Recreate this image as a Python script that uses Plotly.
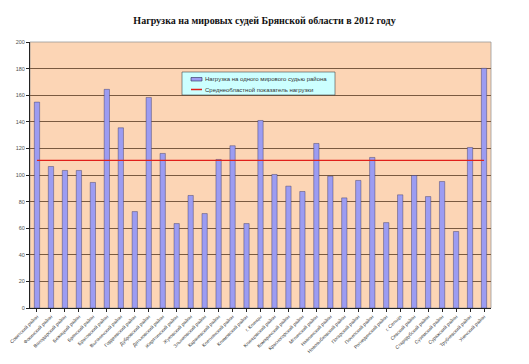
import plotly.graph_objects as go

districts = [
    "Советский район", "Фокинский район", "Володарский район", "Бежицкий район",
    "Брянский район", "Брасовский район", "Выгоничский район", "Гордеевский район",
    "Дубровский район", "Дятьковский район", "Жирятинский район", "Жуковский район",
    "Злынковский район", "Карачевский район", "Клетнянский район", "Климовский район",
    "г. Клинцы", "Клинцовский район", "Комаричский район", "Красногорский район",
    "Мглинский район", "Навлинский район", "Новозыбковский район", "Погарский район",
    "Почепский район", "Рогнединский район", "г. Сельцо", "Севский район",
    "Стародубский район", "Суземский район", "Суражский район", "Трубчевский район",
    "Унечский район",
]
load_per_judge = [
    154.8, 106.4, 103.4, 103.4, 94.4, 164.4, 135.5, 72.5, 158.3, 116.2, 63.5,
    84.6, 71.0, 111.7, 122.0, 63.5, 141.0, 100.4, 91.6, 87.6, 123.7, 99.1,
    82.8, 95.9, 113.2, 64.2, 85.1, 99.6, 83.8, 95.1, 57.5, 120.7, 180.2,
]
regional_average = [111] * len(districts)
y_ticks = list(range(0, 201, 20))
bar_name = "Нагрузка на одного мирового судью района"
line_name = "Среднеобластной показатель нагрузки"

BAR_COLOR = "#9C9CF2"
LINE_COLOR = "#E0201A"

fig = go.Figure()
fig.add_trace(go.Bar(
    x=districts, y=load_per_judge, name=bar_name,
    marker=dict(color=BAR_COLOR, line=dict(color="#2a2a55", width=0.4)),
))
fig.add_trace(go.Scatter(
    x=districts, y=regional_average, mode="lines", name=line_name,
    line=dict(color=LINE_COLOR, width=1.3),
))

fig.update_layout(
    width=529, height=364,
    margin=dict(l=30, r=38, t=42, b=56),
    paper_bgcolor="white",
    plot_bgcolor="#FCD5B5",
    bargap=0.62,
    showlegend=False,
    font=dict(family="Liberation Sans, Arial", size=6, color="#404040"),
    title=dict(
        text="<b>Нагрузка на мировых судей Брянской области в 2012 году</b>",
        x=0.5, xref="container", y=1 - 20 / 364, yref="container",
        xanchor="center", yanchor="middle",
        font=dict(family="Liberation Serif, Times New Roman", size=10, color="#111111"),
    ),
)
fig.update_xaxes(
    tickangle=-45, tickfont=dict(size=4.8, color="#404040"),
    showline=True, linecolor="#222222", linewidth=1,
    ticks="outside", ticklen=3, tickcolor="#222222",
    showgrid=False, automargin=False,
)
fig.update_yaxes(
    range=[0, 200], tickvals=y_ticks,
    tickfont=dict(size=5.5, color="#505050"),
    showline=True, linecolor="#222222", linewidth=1,
    ticks="outside", ticklen=3, tickcolor="#222222",
    showgrid=True, gridcolor="#7a5a40", gridwidth=0.8,
    zeroline=False, automargin=False,
)
fig.add_shape(type="rect", xref="paper", yref="paper", x0=0, x1=1, y0=0, y1=1,
              line=dict(color="#999999", width=0.8), layer="below")

# Legend box drawn manually (plot area: x 30..491 px, y 42..308 px)
def px(x):
    return (x - 30) / 461

def py(y):
    return (308 - y) / 266

fig.add_shape(type="rect", xref="paper", yref="paper",
              x0=px(182), x1=px(335), y0=py(95), y1=py(72),
              fillcolor="#CCFFFF", line=dict(color="#444444", width=0.6))
fig.add_shape(type="rect", xref="paper", yref="paper",
              x0=px(191), x1=px(202), y0=py(81), y1=py(77.5),
              fillcolor=BAR_COLOR, line=dict(color="#2a2a55", width=0.6))
fig.add_shape(type="line", xref="paper", yref="paper",
              x0=px(191), x1=px(202), y0=py(89.5), y1=py(89.5),
              line=dict(color=LINE_COLOR, width=1.5))
for label, ycen in [(bar_name, 79.3), (line_name, 89.5)]:
    fig.add_annotation(text=label, xref="paper", yref="paper",
                       x=px(203), y=py(ycen), xanchor="left", yanchor="middle",
                       showarrow=False, font=dict(size=6.0, color="#333333"))

fig.write_html("out.html",
               config={"displayModeBar": False},
               post_script="document.body.style.margin='0';document.body.style.overflow='hidden';")
